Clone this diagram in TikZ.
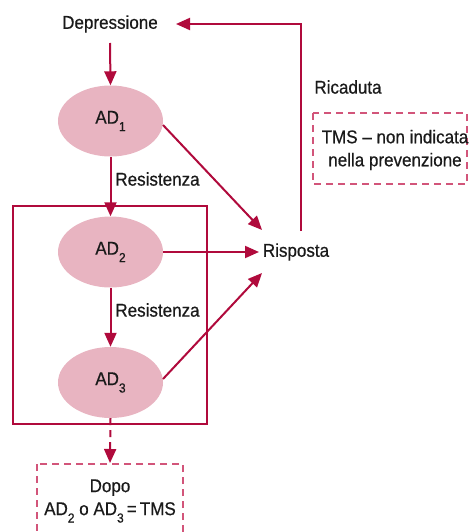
\documentclass[tikz,border=0pt]{standalone}
\usepackage{fontspec}
\setmainfont[FakeStretch=0.92,FakeBold=0.6]{Liberation Sans}
\usetikzlibrary{arrows.meta,shapes.geometric}
\definecolor{crim}{HTML}{B00A3C}
\definecolor{pinkfill}{HTML}{E8B4C1}
\definecolor{dashc}{HTML}{D2557A}
\definecolor{ink}{HTML}{1A1A1A}
\newcommand\subsc[1]{\raisebox{-0.4em}{\fontsize{13}{13}\selectfont #1}}
\begin{document}
\begin{tikzpicture}[x=1pt,y=-1pt,
  font=\fontsize{18.5}{23}\selectfont,
  txt/.style={text=ink, inner sep=0pt},
  ell/.style={ellipse, fill=pinkfill, draw=none, minimum width=105pt, minimum height=71pt, inner sep=0pt, text=ink},
  arr/.style={draw=crim, line width=2pt, -{Triangle[length=14pt,width=12pt]}},
  dasharr/.style={arr, dash pattern=on 7pt off 5pt},
  dbox/.style={draw=dashc, line width=1.2pt, dash pattern=on 7pt off 5pt},
  frame/.style={draw=crim, line width=1.2pt}]
\useasboundingbox (0,0) rectangle (468,532);
% nodes
\node[txt] (dep) at (110,24) {Depressione};
\node[ell] (ad1) at (110.5,121) {AD\subsc{1}};
\node[ell] (ad2) at (110.5,252) {AD\subsc{2}};
\node[ell] (ad3) at (110.5,382.5) {AD\subsc{3}};
\node[txt] (ris) at (296,252) {Risposta};
\node[txt] (res1) at (157.5,179) {Resistenza};
\node[txt] (res2) at (157.5,310) {Resistenza};
\node[txt] (ric) at (348,87) {Ricaduta};
% frame around AD2, AD3
\draw[frame] (13,206) rectangle (207,424);
% dashed boxes
\draw[dbox] (313,113) rectangle (467,184);
\node[txt, align=center] (tms) at (395,150) {TMS -- non indicata\\nella prevenzione};
\draw[dbox] (37,464) rectangle (183,545);
\node[txt, align=center] (dopo) at (110,501) {Dopo\\AD\subsc{2} o AD\subsc{3}\,=\,TMS};
% coordinates for arrow ends
\coordinate (depb) at (110,43);
\coordinate (rtop) at (262,230);
\coordinate (rmid) at (259,252);
\coordinate (rbot) at (262,273);
\coordinate (fb) at (301,231);
\coordinate (dept) at (176,24);
\coordinate (a1e) at (163,125);
\coordinate (a3e) at (163,379);
\coordinate (boxt) at (110,463);
% connectors
\draw[arr] (depb) -- (ad1.north);
\draw[arr] (ad1.south) -- (ad2.north);
\draw[arr] (ad2.south) -- (ad3.north);
\draw[arr] (a1e) -- (rtop);
\draw[arr] (ad2.east) -- (rmid);
\draw[arr] (a3e) -- (rbot);
\draw[arr] (fb) -- (301,24) -- (dept);
\draw[dasharr] (ad3.south) -- (boxt);
\end{tikzpicture}
\end{document}
